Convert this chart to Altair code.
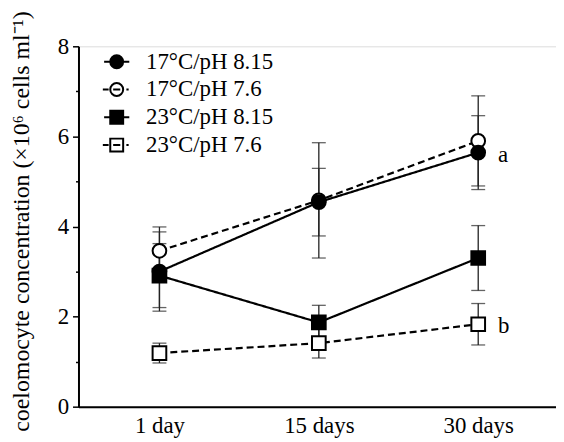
import altair as alt
import pandas as pd

days = ["1 day", "15 days", "30 days"]
series = ["17°C/pH 8.15", "17°C/pH 7.6", "23°C/pH 8.15", "23°C/pH 7.6"]
means = {
    "17°C/pH 8.15": [3.00, 4.54, 5.64],
    "17°C/pH 7.6": [3.46, 4.58, 5.90],
    "23°C/pH 8.15": [2.91, 1.87, 3.30],
    "23°C/pH 7.6": [1.19, 1.41, 1.83],
}
errors = {
    "17°C/pH 8.15": [0.88, 0.75, 0.82],
    "17°C/pH 7.6": [0.53, 1.28, 1.00],
    "23°C/pH 8.15": [0.71, 0.38, 0.72],
    "23°C/pH 7.6": [0.22, 0.33, 0.46],
}
marker = {"17°C/pH 8.15": "circle", "17°C/pH 7.6": "circle",
          "23°C/pH 8.15": "square", "23°C/pH 7.6": "square"}
filled = {"17°C/pH 8.15": 1, "17°C/pH 7.6": 0, "23°C/pH 8.15": 1, "23°C/pH 7.6": 0}
dash = {"17°C/pH 8.15": "solid", "17°C/pH 7.6": "dashed",
        "23°C/pH 8.15": "solid", "23°C/pH 7.6": "dashed"}

annot_text = ["a", "b"]
annot_day = ["30 days", "30 days"]
annot_val = [5.64, 1.83]

rows = []
for s in series:
    for d, m, e in zip(days, means[s], errors[s]):
        rows.append({"series": s, "day": d, "mean": m, "lo": m - e, "hi": m + e,
                     "mk": marker[s], "filled": filled[s], "dash": dash[s]})
df = pd.DataFrame(rows)
ann = pd.DataFrame({"text": annot_text, "day": annot_day, "val": annot_val})

FONT = "Liberation Serif"
FS = 23

xenc = alt.X("day:O", sort=days,
             scale=alt.Scale(type="point", padding=0.498, align=0.51),
             axis=alt.Axis(title=None, ticks=False, tickSize=0, labelAngle=0,
                           labelFont=FONT, labelFontSize=FS, labelColor="black",
                           labelPadding=8, domainColor="black", domainWidth=2))
yscale = alt.Scale(domain=[0, 8], nice=False, zero=True)
yaxis = alt.Axis(title="coelomocyte concentration (×10⁶ cells ml⁻¹)",
                 values=list(range(0, 9)),
                 labelExpr="datum.value % 2 ? '' : datum.label",
                 labelFont=FONT, labelFontSize=FS, labelColor="black", labelPadding=4,
                 tickColor="black", tickWidth=1.5,
                 tickSize={"condition": {"test": "datum.value % 2 == 1", "value": 3}, "value": 6},
                 domainColor="black", domainWidth=2, grid=False,
                 titleFont=FONT, titleFontSize=24, titleFontWeight="normal",
                 titleColor="black", titleX=-57, titleY=176, titleBaseline="middle")
yenc = alt.Y("mean:Q", scale=yscale, axis=yaxis)

base = alt.Chart(df)

err_rule = base.mark_rule(color="#222", strokeWidth=1.3).encode(
    x=xenc, y=alt.Y("lo:Q", scale=yscale), y2="hi:Q")
cap_lo = base.mark_tick(color="#222", thickness=1.3, size=14, orient="horizontal").encode(
    x=xenc, y=alt.Y("lo:Q", scale=yscale))
cap_hi = base.mark_tick(color="#222", thickness=1.3, size=14, orient="horizontal").encode(
    x=xenc, y=alt.Y("hi:Q", scale=yscale))

lines = base.mark_line(color="black", strokeWidth=2.2).encode(
    x=xenc, y=yenc, detail="series:N",
    strokeDash=alt.StrokeDash("dash:N", scale=alt.Scale(domain=["solid", "dashed"],
                                                        range=[[1, 0], [7, 4]]), legend=None))

def pts(shape, isfilled):
    return base.transform_filter(
        f"datum.mk == '{shape}' && datum.filled == {isfilled}"
    ).mark_point(shape=shape, size=190, filled=True,
                 fill="black" if isfilled else "white",
                 stroke="black", strokeWidth=2, opacity=1).encode(x=xenc, y=yenc)

circle_path = "M1,0 A1,1 0 1,1 -1,0 A1,1 0 1,1 1,0 Z"
square_path = "M-1,-1 L1,-1 L1,1 L-1,1 Z"
solid_line = "M-1.95,0 L1.95,0 "
dash_line = "M-2.15,0 L-1.25,0 M-0.55,0 L0.55,0 M1.5,0 L1.85,0 "
paths = [solid_line + circle_path, dash_line + circle_path,
         solid_line + square_path, dash_line + square_path]

leg = alt.Legend(title=None, orient="none", legendX=27, legendY=4, padding=0,
                 labelFont=FONT, labelFontSize=FS, labelColor="black", labelLimit=0,
                 labelOffset=18, rowPadding=4, symbolSize=169, symbolStrokeWidth=2,
                 symbolStrokeColor="black", symbolOpacity=1)
legend_layer = base.transform_filter("false").mark_point(filled=True, strokeWidth=2).encode(
    x=xenc, y=yenc,
    shape=alt.Shape("series:N", scale=alt.Scale(domain=series, range=paths), legend=leg),
    fill=alt.Fill("series:N", scale=alt.Scale(domain=series,
                                              range=["black", "white", "black", "white"]),
                  legend=leg),
    stroke=alt.Stroke("series:N", scale=alt.Scale(domain=series,
                                                  range=["black", "black", "black", "black"]),
                      legend=leg))

text = alt.Chart(ann).mark_text(align="left", baseline="middle", dx=20, dy=2,
                                font=FONT, fontSize=FS, color="black").encode(
    x=xenc, y=alt.Y("val:Q", scale=yscale), text="text:N")

chart = alt.layer(
    err_rule, cap_lo, cap_hi, lines,
    pts("circle", 0), pts("square", 0), pts("circle", 1), pts("square", 1),
    legend_layer, text
).properties(
    width=481, height=363,
    autosize=alt.AutoSizeParams(type="none"),
    padding={"left": 71, "top": 37, "right": 0, "bottom": 34},
).configure_view(stroke=None).configure(background="white")

chart.save("out.html", embed_options={"renderer": "svg", "actions": False})
